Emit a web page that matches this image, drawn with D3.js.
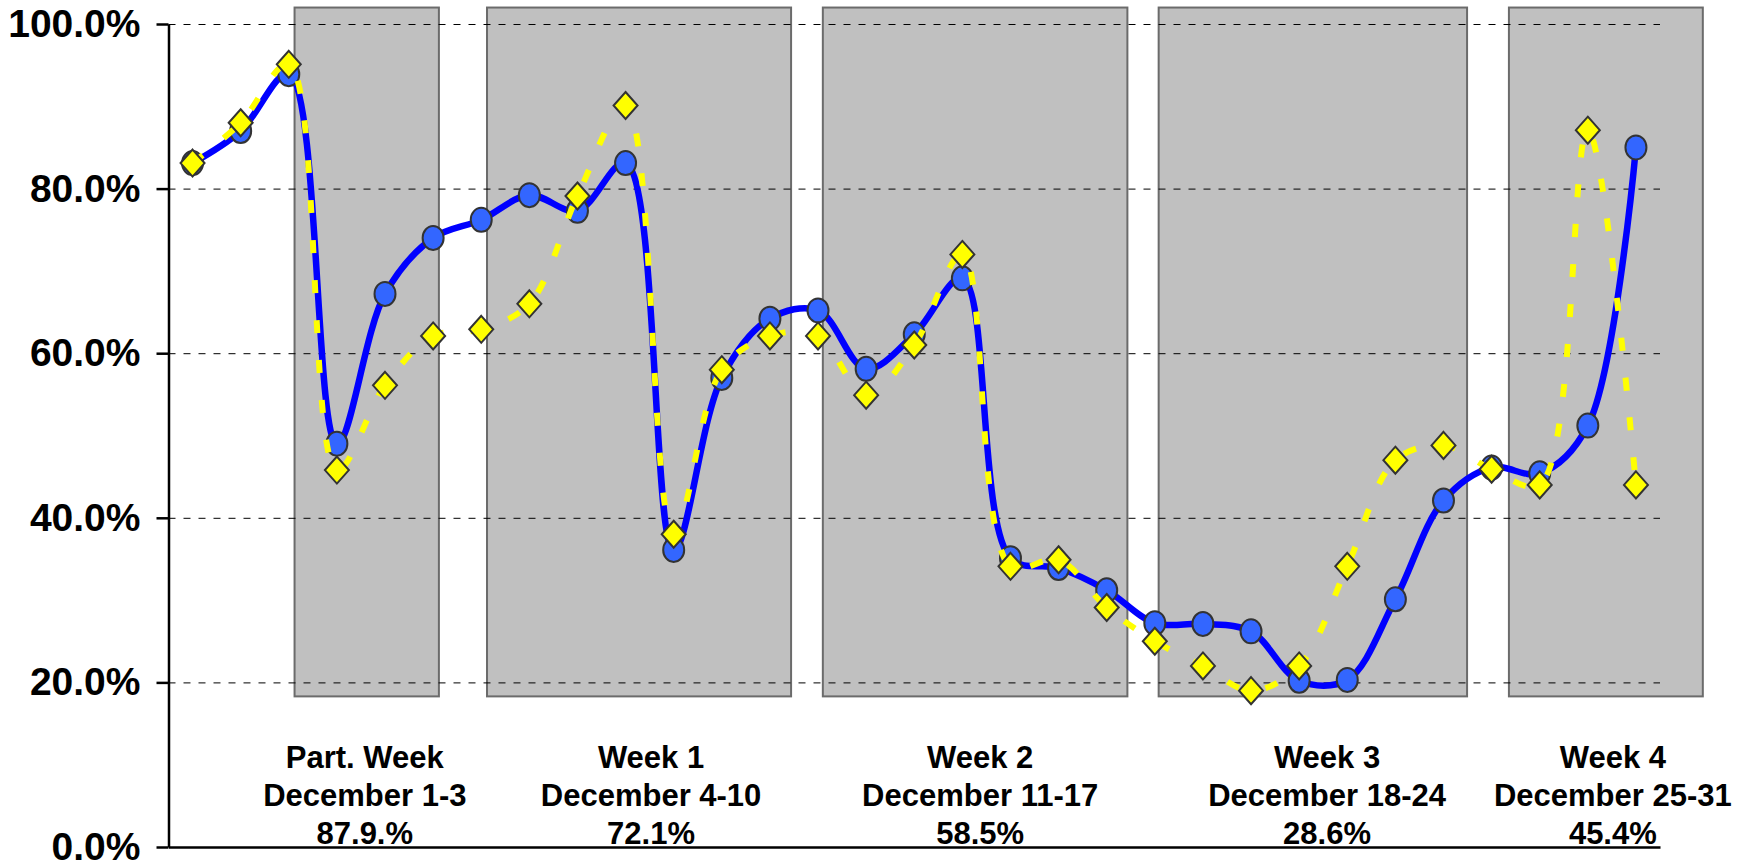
<!DOCTYPE html>
<head>
  <meta charset="utf-8">
  <script src="https://d3js.org/d3.v7.min.js"></script>
  <style>
    body { margin: 0; background: #fff; }
    svg { display: block; font-family: "Liberation Sans", Arial, sans-serif; font-weight: bold; }
    .grid line { stroke: #000; stroke-width: 1; stroke-dasharray: 7,8; }
    .grid path { stroke-width: 0; }
    .axis path, .axis line { stroke: #000; stroke-width: 2.5; }
    .axis text { font-size: 39px; font-weight: bold; fill: #000; }
    .band { fill: #c0c0c0; stroke: #6b6b6b; stroke-width: 2; }
    .week-label { font-size: 31px; fill: #000; text-anchor: middle; }
  </style>
</head>
<body>
<svg width="1743" height="866"></svg>
<script>

// daily values, December 1-31 (percent)
var days = d3.range(1, 32);
var blueValues = [83.1, 87.0, 93.9, 49.0, 67.2, 74.0, 76.2, 79.2, 77.3, 83.1,
                  36.1, 57.0, 64.2, 65.2, 58.1, 62.3, 69.1, 35.1, 33.9, 31.2,
                  27.2, 27.1, 26.2, 20.2, 20.3, 30.1, 42.1, 46.1, 45.4, 51.2, 85.0];
var yellowValues = [83.1, 88.0, 95.1, 45.8, 56.1, 62.1, 62.9, 66.0, 79.1, 90.1,
                    38.0, 58.0, 62.1, 62.1, 54.9, 61.0, 72.0, 34.1, 34.9, 29.1,
                    25.0, 22.0, 19.0, 22.0, 34.1, 47.0, 48.8, 45.9, 44.0, 87.1, 44.0];

// shaded week blocks, in day units on the category axis
var bandStart = [2.62, 6.62, 13.6, 20.58, 27.86];
var bandEnd = [5.62, 12.94, 19.93, 26.99, 31.89];
var bandLow = 18.3, bandHigh = 102.0;

// week labels below the plot
var labelPos = [4.08, 10.03, 16.87, 24.08, 30.02];
var labelLine1 = ["Part. Week", "Week 1", "Week 2", "Week 3", "Week 4"];
var labelLine2 = ["December 1-3", "December 4-10", "December 11-17", "December 18-24", "December 25-31"];
var labelLine3 = ["87.9.%", "72.1%", "58.5%", "28.6%", "45.4%"];

var yTicks = [0, 20, 40, 60, 80, 100];

var svg = d3.select("svg");
var plotLeft = 168.5, plotRight = 1660, plotTop = 24, plotBottom = 847;

var x = d3.scaleLinear().domain([0, 31]).range([plotLeft, plotRight]);
var y = d3.scaleLinear().domain([0, 100]).range([plotBottom, plotTop]);

// bands
svg.selectAll(".band")
    .data(bandStart)
    .enter().append("rect")
    .attr("class", "band")
    .attr("x", function(d) { return x(d); })
    .attr("width", function(d, i) { return x(bandEnd[i]) - x(d); })
    .attr("y", y(bandHigh))
    .attr("height", y(bandLow) - y(bandHigh));

// gridlines
svg.append("g")
    .attr("class", "grid")
    .attr("transform", "translate(" + plotLeft + ",0)")
    .call(d3.axisLeft(y)
        .tickValues(yTicks.slice(1))
        .tickSize(-(plotRight - plotLeft))
        .tickFormat(""));

// axes
svg.append("g")
    .attr("class", "axis")
    .attr("transform", "translate(0," + plotBottom + ")")
    .call(d3.axisBottom(x).tickValues([]).tickSizeOuter(0));

svg.append("g")
    .attr("class", "axis")
    .attr("transform", "translate(" + plotLeft + ",0)")
    .call(d3.axisLeft(y)
        .tickValues(yTicks)
        .tickSize(12)
        .tickSizeOuter(0)
        .tickPadding(16)
        .tickFormat(function(d) { return d.toFixed(1) + "%"; }));

// week labels
var labels = svg.selectAll(".week-label")
    .data(labelPos)
    .enter().append("text")
    .attr("class", "week-label")
    .attr("x", function(d) { return x(d); });
labels.append("tspan").attr("x", function(d) { return x(d); }).attr("y", 768)
    .text(function(d, i) { return labelLine1[i]; });
labels.append("tspan").attr("x", function(d) { return x(d); }).attr("y", 806)
    .text(function(d, i) { return labelLine2[i]; });
labels.append("tspan").attr("x", function(d) { return x(d); }).attr("y", 844)
    .text(function(d, i) { return labelLine3[i]; });

var line = d3.line()
    .x(function(d, i) { return x(days[i] - 0.5); })
    .y(function(d) { return y(d); })
    .curve(d3.curveCatmullRom.alpha(0.5));

// blue series
svg.append("path")
    .datum(blueValues)
    .attr("d", line)
    .style("fill", "none")
    .style("stroke", "#0000ff")
    .style("stroke-width", 6.5);

svg.selectAll(".dot")
    .data(blueValues)
    .enter().append("ellipse")
    .attr("class", "dot")
    .attr("cx", function(d, i) { return x(days[i] - 0.5); })
    .attr("cy", function(d) { return y(d); })
    .attr("rx", 10.5)
    .attr("ry", 12)
    .style("fill", "#3366ff")
    .style("stroke", "#333")
    .style("stroke-width", 2);

// yellow series
svg.append("path")
    .datum(yellowValues)
    .attr("d", line)
    .style("fill", "none")
    .style("stroke", "#ffff00")
    .style("stroke-width", 6)
    .style("stroke-dasharray", "13,27");

svg.selectAll(".diamond")
    .data(yellowValues)
    .enter().append("path")
    .attr("class", "diamond")
    .attr("transform", function(d, i) { return "translate(" + x(days[i] - 0.5) + "," + y(d) + ")"; })
    .attr("d", "M0,-13.5L12,0L0,13.5L-12,0Z")
    .style("fill", "#ffff00")
    .style("stroke", "#333")
    .style("stroke-width", 2);

</script>
</body>
